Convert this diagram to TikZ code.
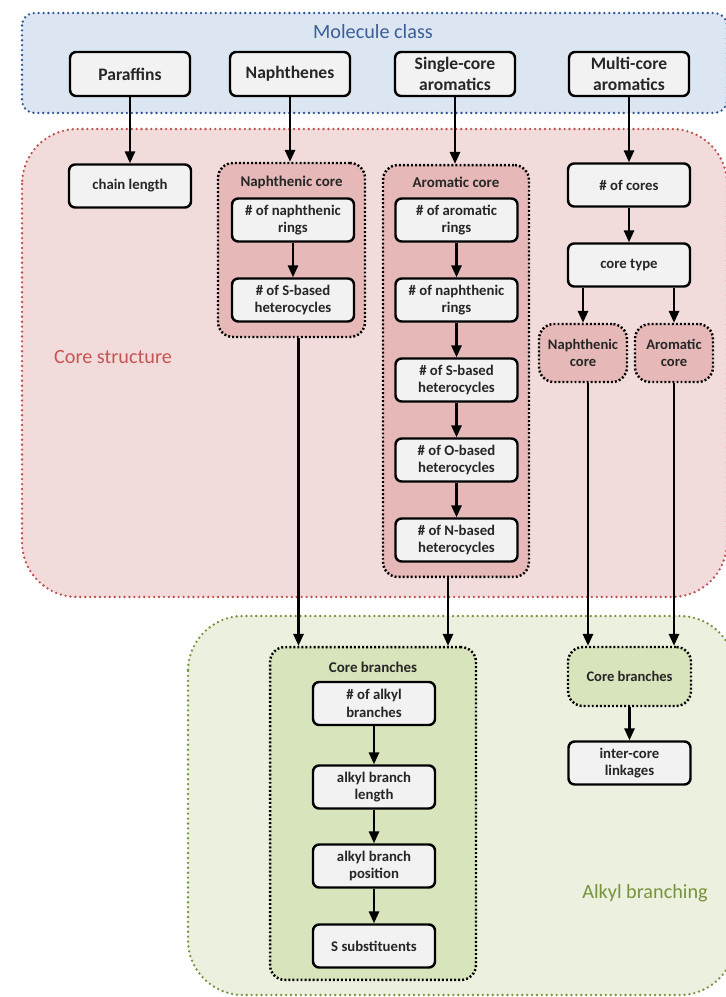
\documentclass[tikz,border=0pt]{standalone}
\usepackage{fontspec}
\setmainfont{Carlito}
\usetikzlibrary{arrows.meta}

\definecolor{molfill}{HTML}{DCE6F2}
\definecolor{moldraw}{HTML}{2F5597}
\definecolor{moltext}{HTML}{3A5E97}
\definecolor{corefill}{HTML}{F2DCDB}
\definecolor{coredraw}{HTML}{C0504D}
\definecolor{coretext}{HTML}{C65454}
\definecolor{coregrp}{HTML}{E6B9B8}
\definecolor{alkfill}{HTML}{EBF1DE}
\definecolor{alkdraw}{HTML}{77933C}
\definecolor{alkgrp}{HTML}{D7E4BC}
\definecolor{boxfill}{HTML}{F2F2F2}

\begin{document}
\begin{tikzpicture}[x=0.02cm,y=-0.02cm,
  area/.style={line width=1.5pt,dash pattern=on 0pt off 2.8pt,line cap=round,rounded corners=1.1cm},
  groupbox/.style={draw=black,line width=1.4pt,dash pattern=on 1.1pt off 1.2pt,rounded corners=0.3cm,align=center,
    font=\fontsize{8.3}{10}\selectfont\bfseries,text=black!85},
  grouplabel/.style={font=\fontsize{8.5}{10}\selectfont\bfseries,text=black!85},
  leaf/.style={draw=black,line width=1.4pt,fill=boxfill,rounded corners=3.5pt,align=center,minimum width=2.44cm,
    minimum height=0.86cm,inner sep=1pt,font=\fontsize{8.4}{10}\selectfont\bfseries,text=black!85},
  classbox/.style={leaf,minimum width=2.4cm,minimum height=0.88cm,font=\fontsize{10}{11.6}\selectfont\bfseries},
  flow/.style={line width=1.3pt,-{Triangle[length=6.8pt,width=5.8pt]}},
  areatitle/.style={font=\fontsize{11.5}{13}\selectfont}]
\useasboundingbox (0,0) rectangle (725,997);
\draw[area,fill=molfill,draw=moldraw,rounded corners=0.25cm] (22,13) rectangle (727,113);
\draw[area,fill=corefill,draw=coredraw] (22,129) rectangle (727,597);
\draw[area,fill=alkfill,draw=alkdraw] (188,616) rectangle (735,995);
\node[areatitle,text=moltext] (molclass) at (373,32) {Molecule class};
\node[areatitle,text=coretext] (corestruct) at (113,357) {Core structure};
\node[areatitle,text=alkdraw] (alkbranch) at (645,893) {Alkyl branching};

\node[classbox] (paraffins) at (130,74) {Paraffins};
\node[classbox] (naphthenes) at (290,74) {Naphthenes};
\node[classbox] (singlecore) at (455,74) {Single-core\\aromatics};
\node[classbox] (multicore) at (629,74) {Multi-core\\aromatics};

\node[leaf] (chainlen) at (130,186) {chain length};

\node[groupbox,fill=coregrp,minimum width=2.94cm,minimum height=3.48cm] (naphcore) at (291.5,250) {};
\node[grouplabel] (naphlabel) at (291.5,182) {Naphthenic core};
\node[leaf] (naphrings) at (293,220) {\# of naphthenic\\rings};
\node[leaf] (naphS) at (293,300) {\# of S-based\\heterocycles};

\node[groupbox,fill=coregrp,minimum width=2.92cm,minimum height=8.24cm] (arocore) at (456,371) {};
\node[grouplabel] (arolabel) at (456,182) {Aromatic core};
\node[leaf] (arorings) at (456.5,220) {\# of aromatic\\rings};
\node[leaf] (aronaph) at (456.5,300) {\# of naphthenic\\rings};
\node[leaf] (aroS) at (456.5,380) {\# of S-based\\heterocycles};
\node[leaf] (aroO) at (456.5,460) {\# of O-based\\heterocycles};
\node[leaf] (aroN) at (456.5,540) {\# of N-based\\heterocycles};

\node[leaf] (ncores) at (629,185) {\# of cores};
\node[leaf] (coretype) at (629,265) {core type};
\node[groupbox,fill=coregrp,minimum width=1.76cm,minimum height=1.16cm] (mnaph) at (583,353) {Naphthenic\\core};
\node[groupbox,fill=coregrp,minimum width=1.56cm,minimum height=1.16cm] (maro) at (674,353) {Aromatic\\core};

\node[groupbox,fill=alkgrp,minimum width=4.12cm,minimum height=6.66cm] (corebranch) at (373,813.5) {};
\node[grouplabel] (cblabel) at (373,667) {Core branches};
\node[leaf] (nalkyl) at (374,703.5) {\# of alkyl\\branches};
\node[leaf] (alklen) at (374,787) {alkyl branch\\length};
\node[leaf] (alkpos) at (374,866) {alkyl branch\\position};
\node[leaf] (ssub) at (374,946) {S substituents};

\node[groupbox,fill=alkgrp,minimum width=2.46cm,minimum height=1.18cm] (mbranch) at (629.5,676.5) {Core branches};
\node[leaf] (linkage) at (629.5,763) {inter-core\\linkages};

\draw[flow] (paraffins.south) -- (chainlen.north);
\draw[flow] (naphthenes.south) -- (naphthenes.south |- naphcore.north);
\draw[flow] (singlecore.south) -- (singlecore.south |- arocore.north);
\draw[flow] (multicore.south) -- (ncores.north);
\draw[flow] (naphrings) -- (naphS);
\draw[flow] (arorings) -- (aronaph);
\draw[flow] (aronaph) -- (aroS);
\draw[flow] (aroS) -- (aroO);
\draw[flow] (aroO) -- (aroN);
\draw[flow] (ncores) -- (coretype);
\draw[flow] (mnaph.north |- coretype.south) -- (mnaph.north);
\draw[flow] (maro.north |- coretype.south) -- (maro.north);
\draw[flow] ([xshift=0.14cm]naphcore.south) -- ([xshift=0.14cm]naphcore.south |- corebranch.north);
\draw[flow] ([xshift=-0.16cm]arocore.south) -- ([xshift=-0.16cm]arocore.south |- corebranch.north);
\draw[flow] ([xshift=0.1cm]mnaph.south) -- ([xshift=0.1cm]mnaph.south |- mbranch.north);
\draw[flow] (maro.south) -- (maro.south |- mbranch.north);
\draw[flow] (mbranch) -- (linkage);
\draw[flow] (nalkyl) -- (alklen);
\draw[flow] (alklen) -- (alkpos);
\draw[flow] (alkpos) -- (ssub);
\end{tikzpicture}
\end{document}
